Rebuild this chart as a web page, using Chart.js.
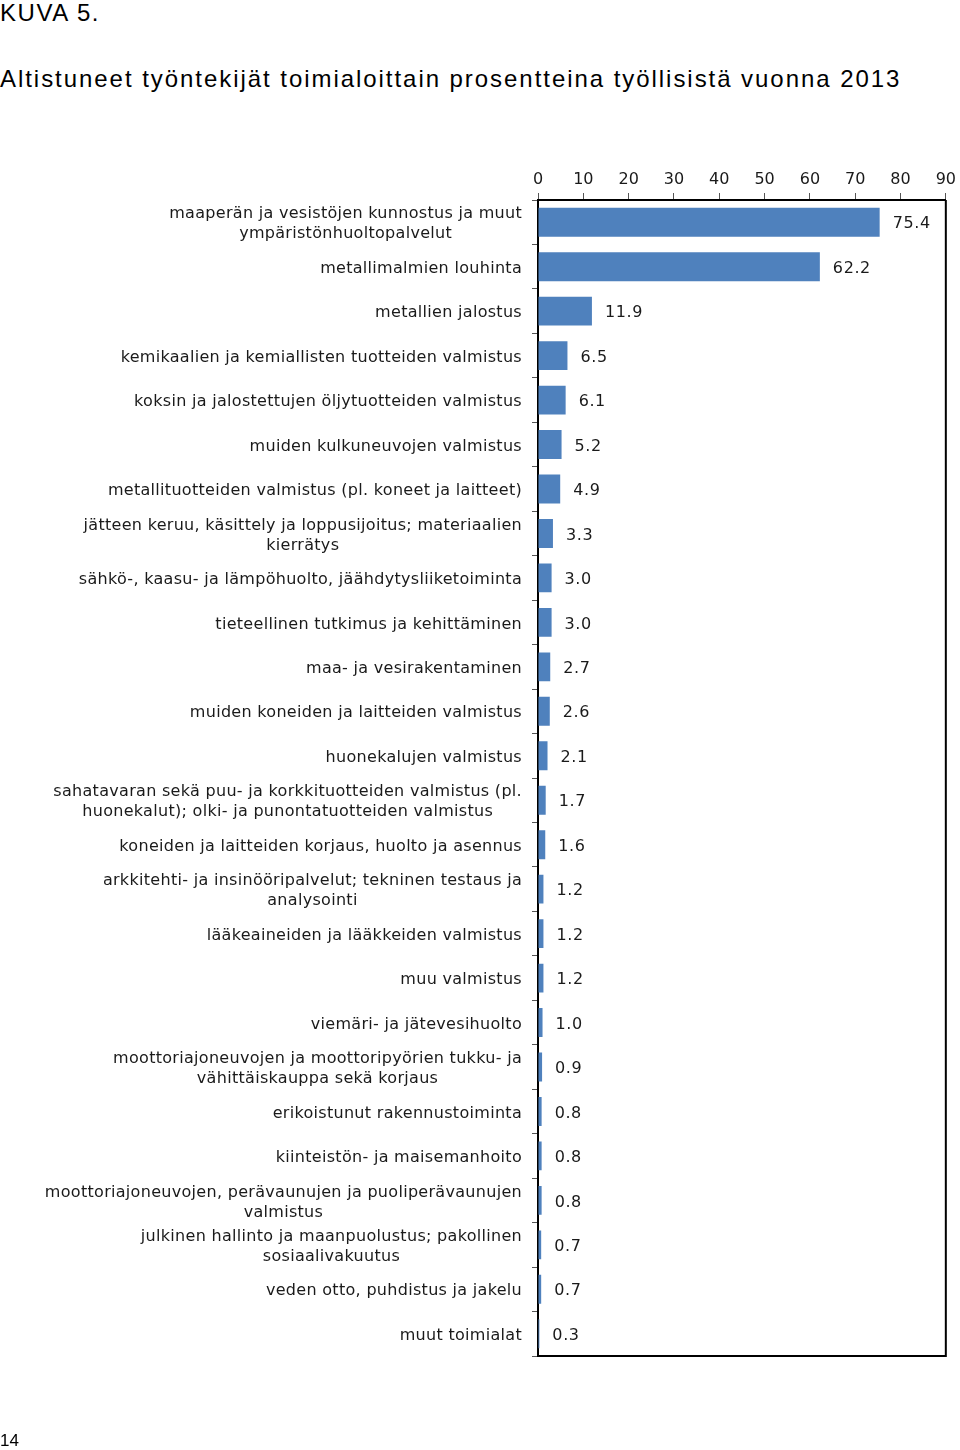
<!DOCTYPE html>
<html>
<head>
<meta charset="utf-8">
<script src="https://cdn.jsdelivr.net/npm/chart.js@4.4.0/dist/chart.umd.min.js"></script>
<style>
  body { margin: 0; background: #fff; width: 960px; height: 1450px; position: relative; overflow: hidden; }
  .txt { position: absolute; left: 0; font-family: "Liberation Sans", Arial, sans-serif; color: #000; white-space: nowrap; line-height: 1; }
  #kuva { top: 1px; font-size: 24px; letter-spacing: 1.6px; }
  #title { top: 67px; font-size: 24px; letter-spacing: 1.95px; }
  #page { top: 1432px; font-size: 17px; }
  #wrap { position: absolute; left: 0; top: 0; width: 960px; height: 1450px; }
</style>
</head>
<body>
<div class="txt" id="kuva">KUVA 5.</div>
<div class="txt" id="title">Altistuneet työntekijät toimialoittain prosentteina työllisistä vuonna 2013</div>
<div id="wrap"><canvas id="chart" width="960" height="1450"></canvas></div>
<div class="txt" id="page">14</div>
<script>
// Categories (top to bottom) and shares of employed, %
const categories = [
  ['maaperän ja vesistöjen kunnostus ja muut', 'ympäristönhuoltopalvelut'],
  'metallimalmien louhinta',
  'metallien jalostus',
  'kemikaalien ja kemiallisten tuotteiden valmistus',
  'koksin ja jalostettujen öljytuotteiden valmistus',
  'muiden kulkuneuvojen valmistus',
  'metallituotteiden valmistus (pl. koneet ja laitteet)',
  ['jätteen keruu, käsittely ja loppusijoitus; materiaalien', 'kierrätys'],
  'sähkö-, kaasu- ja lämpöhuolto, jäähdytysliiketoiminta',
  'tieteellinen tutkimus ja kehittäminen',
  'maa- ja vesirakentaminen',
  'muiden koneiden ja laitteiden valmistus',
  'huonekalujen valmistus',
  ['sahatavaran sekä puu- ja korkkituotteiden valmistus (pl.', 'huonekalut); olki- ja punontatuotteiden valmistus'],
  'koneiden ja laitteiden korjaus, huolto ja asennus',
  ['arkkitehti- ja insinööripalvelut; tekninen testaus ja', 'analysointi'],
  'lääkeaineiden ja lääkkeiden valmistus',
  'muu valmistus',
  'viemäri- ja jätevesihuolto',
  ['moottoriajoneuvojen ja moottoripyörien tukku- ja', 'vähittäiskauppa sekä korjaus'],
  'erikoistunut rakennustoiminta',
  'kiinteistön- ja maisemanhoito',
  ['moottoriajoneuvojen, perävaunujen ja puoliperävaunujen', 'valmistus'],
  ['julkinen hallinto ja maanpuolustus; pakollinen', 'sosiaalivakuutus'],
  'veden otto, puhdistus ja jakelu',
  'muut toimialat'
];
const values = [75.4, 62.2, 11.9, 6.5, 6.1, 5.2, 4.9, 3.3, 3.0, 3.0, 2.7, 2.6, 2.1,
                1.7, 1.6, 1.2, 1.2, 1.2, 1.0, 0.9, 0.8, 0.8, 0.8, 0.7, 0.7, 0.3];
const xTickValues = [0, 10, 20, 30, 40, 50, 60, 70, 80, 90];

const FONT = '"DejaVu Sans", Verdana, sans-serif';
const TEXT = '#1a1a1a';

// category labels (centred lines, right-aligned block), value labels, right/bottom frame
const annotate = {
  id: 'annotate',
  afterDraw(chart) {
    const { ctx, chartArea: a, scales: { x, y } } = chart;
    ctx.save();
    ctx.strokeStyle = '#000';
    ctx.lineWidth = 2;
    ctx.beginPath();
    ctx.moveTo(a.left, a.bottom);
    ctx.lineTo(a.right, a.bottom);
    ctx.lineTo(a.right, a.top);
    ctx.stroke();

    ctx.font = '16px ' + FONT;
    ctx.fillStyle = TEXT;
    ctx.textBaseline = 'middle';
    categories.forEach((lab, i) => {
      const yc = y.getPixelForValue(i) + 2;
      const lines = Array.isArray(lab) ? lab : [lab];
      ctx.letterSpacing = '0.3px';
      const blockW = Math.max(...lines.map(l => ctx.measureText(l).width));
      const cx = a.left - 16 - blockW / 2;
      ctx.textAlign = 'center';
      lines.forEach((l, j) => ctx.fillText(l, cx, yc + (j - (lines.length - 1) / 2) * 20));
      ctx.letterSpacing = '0.6px';
      ctx.textAlign = 'left';
      ctx.fillText(values[i].toFixed(1), x.getPixelForValue(values[i]) + 13, yc);
    });
    ctx.restore();
  }
};

new Chart(document.getElementById('chart'), {
  type: 'bar',
  data: {
    labels: categories,
    datasets: [{
      data: values,
      backgroundColor: '#4f81bd',
      barPercentage: 0.65,
      categoryPercentage: 1
    }]
  },
  options: {
    indexAxis: 'y',
    responsive: false,
    animation: false,
    layout: { padding: { left: 528, top: 162, right: 14, bottom: 94 } },
    plugins: { legend: { display: false }, tooltip: { enabled: false } },
    scales: {
      x: {
        position: 'top',
        min: 0,
        max: 90,
        afterBuildTicks: s => { s.ticks = xTickValues.map(v => ({ value: v })); },
        afterFit: s => { s.height = 38; },
        grid: { drawOnChartArea: false, tickLength: 7, color: '#555' },
        border: { color: '#000', width: 2 },
        ticks: { padding: 4, color: TEXT, font: { family: FONT, size: 16 } }
      },
      y: {
        afterFit: s => { s.width = 10; },
        grid: { offset: true, drawOnChartArea: false, tickLength: 6, color: '#555' },
        border: { color: '#000', width: 2 },
        ticks: { display: false }
      }
    }
  },
  plugins: [annotate]
});
</script>
</body>
</html>
